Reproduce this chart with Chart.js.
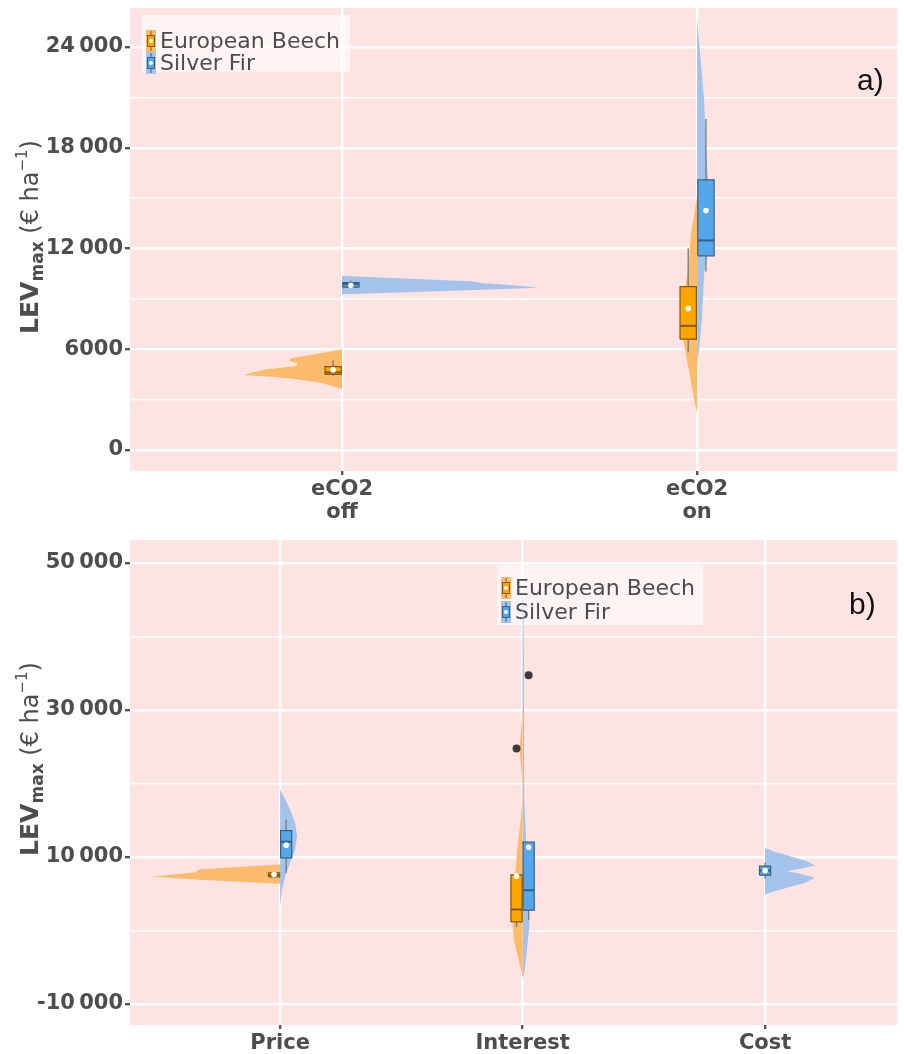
<!DOCTYPE html>
<html>
<head>
<meta charset="utf-8">
<script src="https://cdn.jsdelivr.net/npm/chart.js@4.4.1/dist/chart.umd.min.js"></script>
<style>
  body { margin: 0; background: #fff; }
  canvas { position: absolute; left: 0; }
  #chartA { top: 0; }
  #chartB { top: 530px; }
</style>
</head>
<body>
<canvas id="chartA" width="904" height="530"></canvas>
<canvas id="chartB" width="904" height="524"></canvas>
<script>
const species = ['European Beech', 'Silver Fir'];

/* a) eCO2 off / on */
const catsA = [['eCO2', 'off'], ['eCO2', 'on']];
const yTicksA = [0, 3000, 6000, 9000, 12000, 15000, 18000, 21000, 24000];
const yMajorA = [0, 6000, 12000, 18000, 24000];
// box stats: [lower whisker, q1, median, q3, upper whisker, mean]
const beechBoxA = [[4400, 4500, 4620, 4960, 5350, 4770], [5800, 6600, 7390, 9730, 12020, 8420]];
const firBoxA = [[9650, 9700, 9880, 9970, 10100, 9815], [10630, 11560, 12480, 16090, 19710, 14260]];
// half violins: LEV values + density (half width)
const beechLevA = [
  [5995, 5757, 5459, 5320, 5161, 5002, 4804, 4645, 4466, 4367, 4208, 4010, 3633],
  [15100, 12916, 10930, 8940, 6556, 4966, 2980, 2187]
];
const beechDensA = [
  [0, 0.059, 0.144, 0.149, 0.127, 0.127, 0.211, 0.248, 0.276, 0.197, 0.127, 0.059, 0],
  [0, 0.017, 0.025, 0.037, 0.039, 0.025, 0.008, 0]
];
const firLevA = [
  [10370, 10291, 10212, 10132, 10033, 9934, 9834, 9735, 9655, 9596, 9536, 9437, 9337, 9278],
  [25700, 23000, 20800, 18000, 15000, 12500, 10500, 8000, 6000, 5100]
];
const firDensA = [
  [0, 0.087, 0.175, 0.259, 0.369, 0.394, 0.465, 0.521, 0.549, 0.479, 0.397, 0.245, 0.090, 0],
  [0, 0.011, 0.020, 0.025, 0.034, 0.034, 0.020, 0.014, 0.006, 0]
];

/* b) Price / Interest / Cost */
const catsB = ['Price', 'Interest', 'Cost'];
const yTicksB = [-10000, 0, 10000, 20000, 30000, 40000, 50000];
const yMajorB = [-10000, 10000, 30000, 50000];
const beechBoxB = [[7250, 7300, 7550, 7850, 7950, 7620], [450, 1170, 2860, 7570, 7570, 7390], null];
const firBoxB = [[7850, 9890, 12070, 13600, 15100, 11610], [1400, 2760, 5480, 12010, 12010, 11330], [7030, 7520, 8160, 8750, 9210, 8160]];
const beechOutB = [[], [24760], []];
const firOutB = [[], [34730], []];
const beechLevB = [
  [8979, 8666, 8299, 7932, 7619, 7302, 7166, 6939, 6666, 6353],
  [30200, 27500, 24700, 22000, 19600, 17500, 15000, 12000, 8750, 4500, 590, -1630, -4000, -6300],
  []
];
const beechDensB = [
  [0, 0.157, 0.334, 0.346, 0.437, 0.532, 0.458, 0.346, 0.186, 0],
  [0, 0.006, 0.012, 0.006, 0.001, 0.002, 0.008, 0.019, 0.028, 0.037, 0.041, 0.034, 0.016, 0],
  []
];
const firLevB = [
  [19180, 17820, 16460, 14650, 12830, 11020, 9210, 7390, 5580, 3310],
  [47000, 42000, 36000, 30000, 24000, 18000, 14000, 10000, 5000, 590, -1630, -4850, -6700],
  [11250, 10790, 10110, 9430, 8840, 8390, 8070, 7710, 7170, 6490, 5810, 5210, 4900]
];
const firDensB = [
  [0, 0.021, 0.041, 0.062, 0.070, 0.062, 0.041, 0.021, 0.008, 0],
  [0, 0.004, 0.006, 0.006, 0.006, 0.008, 0.012, 0.019, 0.025, 0.028, 0.021, 0.011, 0],
  [0, 0.033, 0.103, 0.173, 0.206, 0.144, 0.091, 0.144, 0.206, 0.165, 0.091, 0.025, 0]
];

const beechCol = { violin: '#FCBB6B', box: '#FFA500', edge: '#7F5A14' };
const firCol = { violin: '#A3C3EB', box: '#53A7EA', edge: '#3B5F80' };
const FONT = '"DejaVu Sans", sans-serif';
const GREY = '#4D4D4D';

function violin(cx, side, lev, dens, col) {
  return {
    data: lev.map((v, i) => ({ x: cx + side * dens[i], y: v })),
    fill: 'shape', backgroundColor: col.violin, borderWidth: 0, pointRadius: 0, order: 5
  };
}

function boxplot(cx, s, col) {
  const [lo, q1, med, q3, hi, mean] = s;
  const l = cx - 0.023, r = cx + 0.023;
  const line = { pointRadius: 0, fill: false };
  return [
    { ...line, data: [{ x: cx, y: lo }, { x: cx, y: q1 }], borderColor: '#7a7a7a', borderWidth: 1.3, order: 3 },
    { ...line, data: [{ x: cx, y: q3 }, { x: cx, y: hi }], borderColor: '#7a7a7a', borderWidth: 1.3, order: 3 },
    { data: [{ x: l, y: q1 }, { x: r, y: q1 }, { x: r, y: q3 }, { x: l, y: q3 }, { x: l, y: q1 }],
      fill: 'shape', backgroundColor: col.box, borderColor: col.edge, borderWidth: 1.2, pointRadius: 0, order: 2 },
    { ...line, data: [{ x: l, y: med }, { x: r, y: med }], borderColor: col.edge, borderWidth: 2, order: 1 },
    { data: [{ x: cx, y: mean }], showLine: false, pointRadius: 2.8, pointBackgroundColor: '#fff', pointBorderWidth: 0, order: 0 }
  ];
}

function outliers(cx, vals) {
  return { data: vals.map(v => ({ x: cx, y: v })), showLine: false, pointRadius: 4,
    pointBackgroundColor: '#3a3a3a', pointBorderWidth: 0, order: 0 };
}

function buildDatasets(n, bBox, fBox, bLev, bDens, fLev, fDens, bOut, fOut) {
  let ds = [];
  for (let i = 0; i < n; i++) {
    const cx = i + 1;
    if (bLev[i].length) ds.push(violin(cx, -1, bLev[i], bDens[i], beechCol));
    if (fLev[i].length) ds.push(violin(cx, 1, fLev[i], fDens[i], firCol));
    const both = bBox[i] && fBox[i];
    if (bBox[i]) ds = ds.concat(boxplot(both ? cx - 0.025 : cx, bBox[i], beechCol));
    if (fBox[i]) ds = ds.concat(boxplot(both ? cx + 0.025 : cx, fBox[i], firCol));
    if (bOut && bOut[i].length) ds.push(outliers(cx - 0.025, bOut[i]));
    if (fOut && fOut[i].length) ds.push(outliers(cx + 0.025, fOut[i]));
  }
  return ds;
}

function fmt(v) {
  const s = Math.abs(v) >= 10000 ? String(Math.abs(v)).replace(/\B(?=(\d{3})+(?!\d))/g, '\u2009') : String(Math.abs(v));
  return (v < 0 ? '-' : '') + s;
}

const panelBg = {
  id: 'panelBg',
  beforeDraw(chart) {
    const a = chart.chartArea, ctx = chart.ctx;
    ctx.save();
    ctx.fillStyle = '#FDE3E1';
    ctx.fillRect(a.left, a.top, a.right - a.left, a.bottom - a.top);
    ctx.restore();
  }
};

const speciesLegend = {
  id: 'speciesLegend',
  beforeDatasetsDraw(chart, args, o) {
    const ctx = chart.ctx;
    ctx.save();
    ctx.fillStyle = 'rgba(255,255,255,0.6)';
    ctx.fillRect(o.x, o.y, o.w, o.h);
    [beechCol, firCol].forEach((col, i) => {
      const cy = o.y + o.first + i * o.step;
      const gx = o.x + 4;
      ctx.fillStyle = col.violin;
      ctx.fillRect(gx, cy - 11, 10, 22);
      ctx.strokeStyle = col.edge;
      ctx.lineWidth = 1;
      ctx.beginPath(); ctx.moveTo(gx + 5, cy - 10); ctx.lineTo(gx + 5, cy + 10); ctx.stroke();
      ctx.fillStyle = col.box;
      ctx.fillRect(gx + 1, cy - 6, 8, 12);
      ctx.strokeRect(gx + 1.5, cy - 5.5, 7, 11);
      ctx.fillStyle = '#fff';
      ctx.beginPath(); ctx.arc(gx + 5, cy, 2, 0, Math.PI * 2); ctx.fill();
      ctx.fillStyle = GREY;
      ctx.font = '22px ' + FONT;
      ctx.textBaseline = 'middle';
      ctx.fillText(species[i], gx + 14, cy + 1);
    });
    ctx.restore();
  }
};

const yTitle = {
  id: 'yTitle',
  afterDraw(chart, args, o) {
    const ctx = chart.ctx;
    const parts = [
      { t: 'LEV', font: 'bold 25px ' + FONT, dy: 0 },
      { t: 'max', font: 'bold 17px ' + FONT, dy: 5 },
      { t: ' (\u20AC ha', font: '24px ' + FONT, dy: 0 },
      { t: '\u22121', font: '15px ' + FONT, dy: -11 },
      { t: ')', font: '24px ' + FONT, dy: 0 }
    ];
    ctx.save();
    let total = 0;
    parts.forEach(p => { ctx.font = p.font; p.w = ctx.measureText(p.t).width; total += p.w; });
    ctx.translate(o.x, o.y);
    ctx.rotate(-Math.PI / 2);
    ctx.fillStyle = GREY;
    ctx.textBaseline = 'alphabetic';
    let x = -total / 2;
    parts.forEach(p => { ctx.font = p.font; ctx.fillText(p.t, x, p.dy); x += p.w; });
    ctx.restore();
  }
};

const panelTag = {
  id: 'panelTag',
  afterDraw(chart, args, o) {
    const ctx = chart.ctx;
    ctx.save();
    ctx.font = '30px "Liberation Sans", sans-serif';
    ctx.fillStyle = '#111';
    ctx.fillText(o.text, o.x, o.y);
    ctx.restore();
  }
};

function makeChart(id, c) {
  return new Chart(document.getElementById(id), {
    type: 'line',
    data: { datasets: c.datasets },
    options: {
      responsive: false,
      animation: false,
      events: [],
      elements: { line: { tension: 0 } },
      layout: { padding: { top: c.top, right: 7, left: 0, bottom: 0 } },
      plugins: {
        legend: { display: false },
        tooltip: { enabled: false },
        speciesLegend: c.legend,
        yTitle: c.title,
        panelTag: c.tag
      },
      scales: {
        x: {
          type: 'linear', min: c.xMin, max: c.xMax,
          afterBuildTicks: s => { s.ticks = c.cats.map((_, i) => ({ value: i + 1 })); },
          afterFit: s => { s.height = c.xHeight; s.paddingLeft = 0; s.paddingRight = 0; },
          ticks: { callback: v => c.cats[v - 1], autoSkip: false, maxRotation: 0, padding: 3,
                   color: GREY, font: { family: FONT, size: 21, weight: 'bold', lineHeight: 1.1 } },
          grid: { color: '#fff', lineWidth: 2.4, tickColor: '#555', tickLength: 4 },
          border: { display: false }
        },
        y: {
          type: 'linear', min: c.yMin, max: c.yMax,
          afterBuildTicks: s => { s.ticks = c.yTicks.map(v => ({ value: v })); },
          afterFit: s => { s.width = 130; s.paddingTop = 0; s.paddingBottom = 0; },
          ticks: { callback: v => c.yMajor.includes(v) ? fmt(v) : '', autoSkip: false, padding: 2,
                   color: GREY, font: { family: FONT, size: 21, weight: 'bold' } },
          grid: {
            color: '#fff',
            lineWidth: ctx => ctx.tick && c.yMajor.includes(ctx.tick.value) ? 2.4 : 1.5,
            tickColor: ctx => ctx.tick && c.yMajor.includes(ctx.tick.value) ? '#555' : 'rgba(0,0,0,0)',
            tickLength: 5
          },
          border: { display: false }
        }
      }
    },
    plugins: [panelBg, speciesLegend, yTitle, panelTag]
  });
}

makeChart('chartA', {
  datasets: buildDatasets(2, beechBoxA, firBoxA, beechLevA, beechDensA, firLevA, firDensA),
  cats: catsA, yTicks: yTicksA, yMajor: yMajorA,
  xMin: 0.403, xMax: 2.563, yMin: -1250, yMax: 26320,
  top: 8, xHeight: 59,
  legend: { x: 142, y: 15, w: 208, h: 57, first: 26, step: 22 },
  title: { x: 38, y: 237 },
  tag: { text: 'a)', x: 857, y: 90 }
});

makeChart('chartB', {
  datasets: buildDatasets(3, beechBoxB, firBoxB, beechLevB, beechDensB, firLevB, firDensB, beechOutB, firOutB),
  cats: catsB, yTicks: yTicksB, yMajor: yMajorB,
  xMin: 0.381, xMax: 3.544, yMin: -12860, yMax: 53130,
  top: 10, xHeight: 29,
  legend: { x: 497, y: 35, w: 206, h: 60, first: 23, step: 24 },
  title: { x: 38, y: 229 },
  tag: { text: 'b)', x: 849, y: 84 }
});
</script>
</body>
</html>
